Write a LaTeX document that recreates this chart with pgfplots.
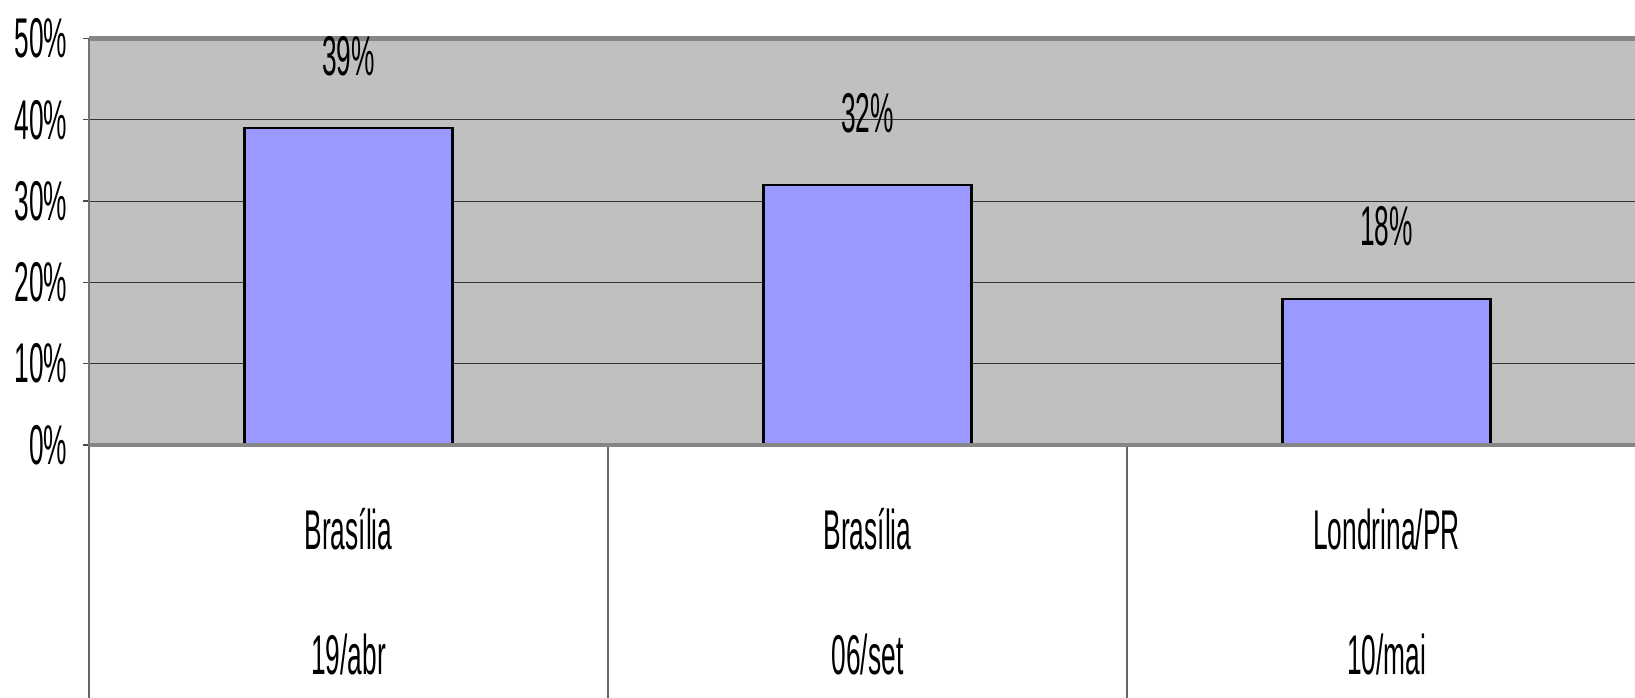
\documentclass[border=0pt]{standalone}
\usepackage{fontspec}
\setmainfont{Liberation Sans}
\newfontfamily\narrow[FakeStretch=0.47]{Liberation Sans}
\usepackage{pgfplots}
\pgfplotsset{compat=1.18}
\definecolor{plotbg}{HTML}{C0C0C0}
\definecolor{barfill}{HTML}{9999FF}
\definecolor{bordergray}{HTML}{868686}
\newcommand\lblfont{\narrow\fontsize{16.8}{37.6}\selectfont}
\begin{document}
\begin{tikzpicture}
\useasboundingbox (-26.7pt,-75.6pt) rectangle (463.8pt,133.5pt);
\clip (-26.7pt,-75.6pt) rectangle (463.8pt,133.5pt);
\begin{axis}[
  at={(0pt,0pt)}, anchor=south west,
  scale only axis,
  width=463.8pt, height=121.95pt,
  xmin=-0.5, xmax=2.4788, ymin=0, ymax=50,
  axis background/.style={fill=plotbg},
  axis line style={draw=none},
  xtick pos=bottom, ytick pos=left,
  ybar, bar width=62.4pt,
  xtick={0,1,2},
  xticklabels={{Brasília\\19/abr},{Brasília\\06/set},{Londrina/PR\\10/mai}},
  xticklabel style={align=center, anchor=center, yshift=-42.2pt, font=\lblfont},
  x tick style={draw=none},
  extra x ticks={-0.5,0.5,1.5,2.5},
  extra x tick labels={},
  extra x tick style={grid=none, tick align=outside, major tick length=80pt, xtick pos=bottom, x tick style={draw=black!60, line width=0.4pt}},
  ytick={0,10,20,30,40,50},
  yticklabel={\pgfmathprintnumber{\tick}\%},
  yticklabel style={font=\lblfont, anchor=east, inner sep=0pt, xshift=-4.5pt},
  /pgf/number format/assume math mode=true,
  ymajorgrids, major grid style={black!80, line width=0.35pt},
  y tick style={draw=black!70, line width=0.4pt},
  tick align=outside, major tick length=1.8pt,
  nodes near coords={\pgfmathprintnumber{\pgfplotspointmeta}\%},
  nodes near coords style={font=\lblfont, anchor=center, yshift=21.6pt},
  clip=false,
]
\addplot[fill=barfill, draw=black, line width=0.65pt] coordinates {(0,39) (1,32) (2,18)};
\draw[bordergray, line width=1.3pt] (rel axis cs:0,1) -- (rel axis cs:1,1);
\draw[bordergray, line width=1.2pt] (rel axis cs:0,0) -- (rel axis cs:1,0);
\draw[black!55, line width=0.4pt] (rel axis cs:0,1) -- (rel axis cs:0,0);
\end{axis}
\end{tikzpicture}
\end{document}
